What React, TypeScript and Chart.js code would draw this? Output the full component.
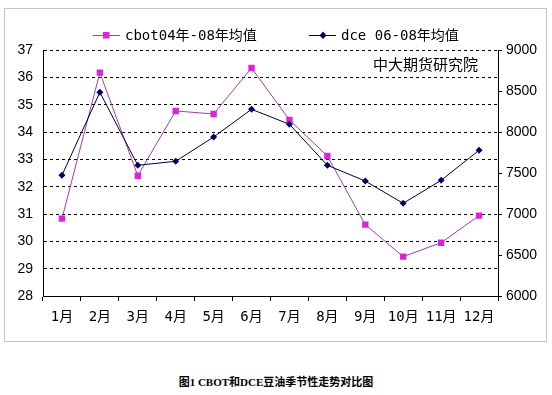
import React, { useEffect, useRef } from "react";
import { Chart, registerables } from "chart.js";

Chart.register(...registerables);

const months = ["1月", "2月", "3月", "4月", "5月", "6月", "7月", "8月", "9月", "10月", "11月", "12月"];
const cbotValues = [30.83, 36.17, 32.4, 34.77, 34.66, 36.34, 34.44, 33.12, 30.61, 29.44, 29.95, 30.94];
const dceValues = [7472, 8484, 7594, 7643, 7939, 8277, 8094, 7594, 7402, 7130, 7411, 7777];
const cbotLabel = "cbot04年-08年均值";
const dceLabel = "dce 06-08年均值";
const leftMin = 28;
const leftMax = 37;
const leftStep = 1;
const rightMin = 6000;
const rightMax = 9000;
const rightStep = 500;
const watermark = "中大期货研究院";
const caption = "图1 CBOT和DCE豆油季节性走势对比图";

const CBOT_LINE = "#A43CAC";
const CBOT_MARK = "#DD22DD";
const DCE_LINE = "#000033";
const DCE_MARK = "#000066";
const MONO = "'DejaVu Sans Mono','Noto Sans CJK SC',sans-serif";

const legendPlugin = {
  id: "customLegend",
  afterDraw(chart: any) {
    const ctx = chart.ctx;
    ctx.save();
    const y = 26;
    ctx.strokeStyle = CBOT_LINE;
    ctx.lineWidth = 1;
    ctx.beginPath();
    ctx.moveTo(88, y + 0.5);
    ctx.lineTo(115, y + 0.5);
    ctx.stroke();
    ctx.fillStyle = CBOT_MARK;
    ctx.fillRect(98, y - 3, 6.5, 6.5);
    ctx.fillStyle = "#000";
    ctx.font = "14px " + MONO;
    ctx.textBaseline = "middle";
    ctx.textAlign = "left";
    ctx.fillText(cbotLabel, 120, y + 1);
    ctx.strokeStyle = DCE_LINE;
    ctx.beginPath();
    ctx.moveTo(304, y + 0.5);
    ctx.lineTo(331, y + 0.5);
    ctx.stroke();
    ctx.fillStyle = DCE_MARK;
    ctx.beginPath();
    ctx.moveTo(318, y - 3.5);
    ctx.lineTo(321.5, y + 0.5);
    ctx.lineTo(318, y + 4);
    ctx.lineTo(314.5, y + 0.5);
    ctx.closePath();
    ctx.fill();
    ctx.fillStyle = "#000";
    ctx.fillText(dceLabel, 336, y + 1);
    ctx.font = "15px 'Noto Sans CJK SC',sans-serif";
    ctx.fillText(watermark, 368, 55);
    ctx.restore();
  },
};

export default function App() {
  const ref = useRef<HTMLCanvasElement | null>(null);
  useEffect(() => {
    if (!ref.current) return;
    const chart = new Chart(ref.current, {
      type: "line",
      data: {
        labels: months,
        datasets: [
          {
            label: cbotLabel,
            data: cbotValues,
            yAxisID: "y",
            borderColor: CBOT_LINE,
            borderWidth: 1,
            backgroundColor: CBOT_MARK,
            pointBackgroundColor: CBOT_MARK,
            pointBorderColor: CBOT_MARK,
            pointStyle: "rect",
            pointRadius: 4.5,
            pointBorderWidth: 0,
            tension: 0,
            order: 2,
          },
          {
            label: dceLabel,
            data: dceValues,
            yAxisID: "y2",
            borderColor: DCE_LINE,
            borderWidth: 1,
            backgroundColor: DCE_MARK,
            pointBackgroundColor: DCE_MARK,
            pointBorderColor: DCE_MARK,
            pointStyle: "rectRot",
            pointRadius: 3.5,
            pointBorderWidth: 0,
            tension: 0,
            order: 1,
          },
        ],
      },
      options: {
        responsive: false,
        animation: false,
        layout: { padding: { top: 41, left: 0, right: 0, bottom: 0 } },
        plugins: { legend: { display: false }, tooltip: { enabled: false } },
        scales: {
          x: {
            type: "category",
            offset: true,
            afterFit: (s: any) => {
              s.height = 45;
            },
            grid: {
              offset: true,
              drawOnChartArea: false,
              drawTicks: true,
              tickLength: 5,
              color: "#000",
            },
            border: { display: true, color: "#000", width: 1 },
            ticks: {
              color: "#000",
              padding: 8,
              maxRotation: 0,
              autoSkip: false,
              font: { family: MONO, size: 14 },
            },
          },
          y: {
            type: "linear",
            position: "left",
            min: leftMin,
            max: leftMax,
            afterFit: (s: any) => {
              s.width = 38;
            },
            grid: { color: "#000", drawTicks: false, lineWidth: 1 },
            border: { display: true, color: "#000", width: 1, dash: [3, 3] },
            ticks: {
              stepSize: leftStep,
              color: "#000",
              padding: 10,
              callback: (v: any) => String(v),
              font: { family: "'Liberation Sans',Arial,sans-serif", size: 14 },
            },
          },
          y2: {
            type: "linear",
            position: "right",
            min: rightMin,
            max: rightMax,
            afterFit: (s: any) => {
              s.width = 48;
            },
            grid: { drawOnChartArea: false, drawTicks: true, tickLength: 4, color: "#000" },
            border: { display: true, color: "#000", width: 1 },
            ticks: {
              stepSize: rightStep,
              color: "#000",
              padding: 4,
              callback: (v: any) => String(v),
              font: { family: "'Liberation Sans',Arial,sans-serif", size: 14 },
            },
          },
        },
      },
      plugins: [legendPlugin],
    } as any);
    return () => chart.destroy();
  }, []);

  return (
    <div style={{ position: "absolute", left: 0, top: 0, width: 552, height: 395, background: "#fff" }}>
      <div
        style={{
          position: "absolute",
          left: 4,
          top: 8,
          width: 541,
          height: 332,
          border: "1px solid #C4C4C4",
          background: "#fff",
        }}
      >
        <canvas ref={ref} width={541} height={332} style={{ display: "block", width: 541, height: 332 }} />
      </div>
      <div
        style={{
          position: "absolute",
          left: 0,
          top: 374,
          width: 552,
          textAlign: "center",
          fontFamily: "'Liberation Serif','Noto Sans CJK SC',serif",
          fontWeight: "bold",
          fontSize: 11,
          lineHeight: "16px",
          color: "#000",
          whiteSpace: "pre",
        }}
      >
        {caption}
      </div>
    </div>
  );
}
